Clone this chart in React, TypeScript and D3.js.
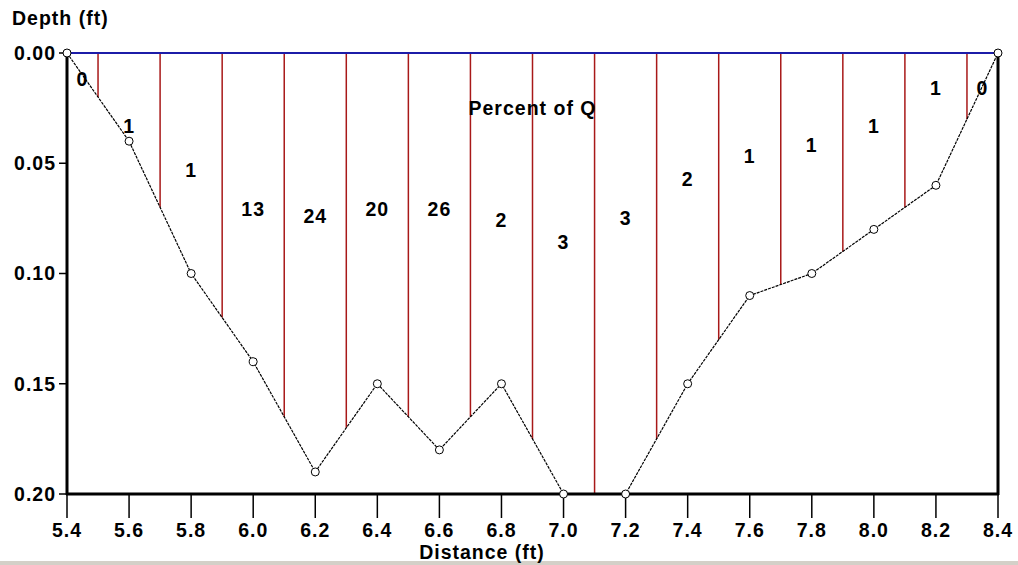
import React from "react";
import * as d3 from "d3";

const distances = [5.4, 5.6, 5.8, 6.0, 6.2, 6.4, 6.6, 6.8, 7.0, 7.2, 7.4, 7.6, 7.8, 8.0, 8.2, 8.4];
const depths = [0.0, 0.04, 0.1, 0.14, 0.19, 0.15, 0.18, 0.15, 0.2, 0.2, 0.15, 0.11, 0.1, 0.08, 0.06, 0.0];
const boundaries = [5.5, 5.7, 5.9, 6.1, 6.3, 6.5, 6.7, 6.9, 7.1, 7.3, 7.5, 7.7, 7.9, 8.1, 8.3];
const percentLabels = ["0", "1", "1", "13", "24", "20", "26", "2", "3", "3", "2", "1", "1", "1", "1", "0"];
const labelDistances = [5.45, 5.6, 5.8, 6.0, 6.2, 6.4, 6.6, 6.8, 7.0, 7.2, 7.4, 7.6, 7.8, 8.0, 8.2, 8.35];
const labelDepths = [0.012, 0.033, 0.053, 0.071, 0.074, 0.071, 0.071, 0.076, 0.086, 0.075, 0.057, 0.047, 0.042, 0.033, 0.016, 0.016];
const xTicks = [5.4, 5.6, 5.8, 6.0, 6.2, 6.4, 6.6, 6.8, 7.0, 7.2, 7.4, 7.6, 7.8, 8.0, 8.2, 8.4];
const yTicks = [0.0, 0.05, 0.1, 0.15, 0.2];

const W = 1018;
const H = 565;
const L = 67, R = 998, T = 53, B = 494;
const FONT = "'Liberation Sans', Arial, sans-serif";

function depthAt(x: number): number {
  for (let i = 0; i < distances.length - 1; i++) {
    if (x >= distances[i] && x <= distances[i + 1]) {
      const t = (x - distances[i]) / (distances[i + 1] - distances[i]);
      return depths[i] + t * (depths[i + 1] - depths[i]);
    }
  }
  return 0;
}

export default function App() {
  const x = d3.scaleLinear().domain([5.4, 8.4]).range([L, R]);
  const y = d3.scaleLinear().domain([0, 0.2]).range([T, B]);
  const line = d3
    .line<number>()
    .x((_, i) => x(distances[i]))
    .y((d) => y(d));
  const textStyle = { fontFamily: FONT, fontWeight: 700, fontSize: 19.5, letterSpacing: 1 } as React.CSSProperties;

  return (
    <svg width={W} height={H} style={{ position: "absolute", left: 0, top: 0, background: "#fff" }}>
      <rect x={0} y={0} width={W} height={H} fill="#fff" />
      <rect x={0} y={561} width={W} height={4} fill="#d4d0c8" />
      {/* subsection verticals */}
      {boundaries.map((b, i) => (
        <line key={"b" + i} x1={x(b)} x2={x(b)} y1={y(0)} y2={y(depthAt(b))} stroke="#a81818" strokeWidth={1.5} />
      ))}
      {/* water surface */}
      <line x1={L} x2={R} y1={T} y2={T} stroke="#1c1ca8" strokeWidth={2} />
      {/* axes */}
      <line x1={L} x2={L} y1={T} y2={B + 1} stroke="#000" strokeWidth={3} />
      <line x1={R} x2={R} y1={T} y2={B + 1} stroke="#000" strokeWidth={3} />
      <line x1={L - 1} x2={R + 1} y1={B} y2={B} stroke="#000" strokeWidth={3} />
      {yTicks.map((t, i) => (
        <g key={"yt" + i}>
          <line x1={L - 8} x2={L} y1={y(t)} y2={y(t)} stroke="#000" strokeWidth={1.5} />
          <text x={L - 11} y={y(t)} dy="0.35em" textAnchor="end" style={textStyle}>
            {d3.format(".2f")(t)}
          </text>
        </g>
      ))}
      {xTicks.map((t, i) => (
        <g key={"xt" + i}>
          <line x1={x(t)} x2={x(t)} y1={B} y2={B + 24} stroke="#000" strokeWidth={1.5} />
          <text x={x(t)} y={530} dy="0.35em" textAnchor="middle" style={textStyle}>
            {d3.format(".1f")(t)}
          </text>
        </g>
      ))}
      {/* profile */}
      <path d={line(depths) || ""} fill="none" stroke="#000" strokeWidth={1.2} strokeDasharray="3 1" />
      {depths.map((d, i) => (
        <circle key={"m" + i} cx={x(distances[i])} cy={y(d)} r={4} fill="#fff" stroke="#000" strokeWidth={1} />
      ))}
      {/* percent labels */}
      {percentLabels.map((p, i) => (
        <text key={"p" + i} x={x(labelDistances[i])} y={y(labelDepths[i])} dy="0.35em" textAnchor="middle" style={textStyle}>
          {p}
        </text>
      ))}
      <text x={(L + R) / 2} y={108} dy="0.35em" textAnchor="middle" style={textStyle}>
        Percent of Q
      </text>
      <text x={12} y={18} dy="0.35em" style={textStyle}>
        Depth (ft)
      </text>
      <text x={482} y={552} dy="0.35em" textAnchor="middle" style={textStyle}>
        Distance (ft)
      </text>
    </svg>
  );
}
